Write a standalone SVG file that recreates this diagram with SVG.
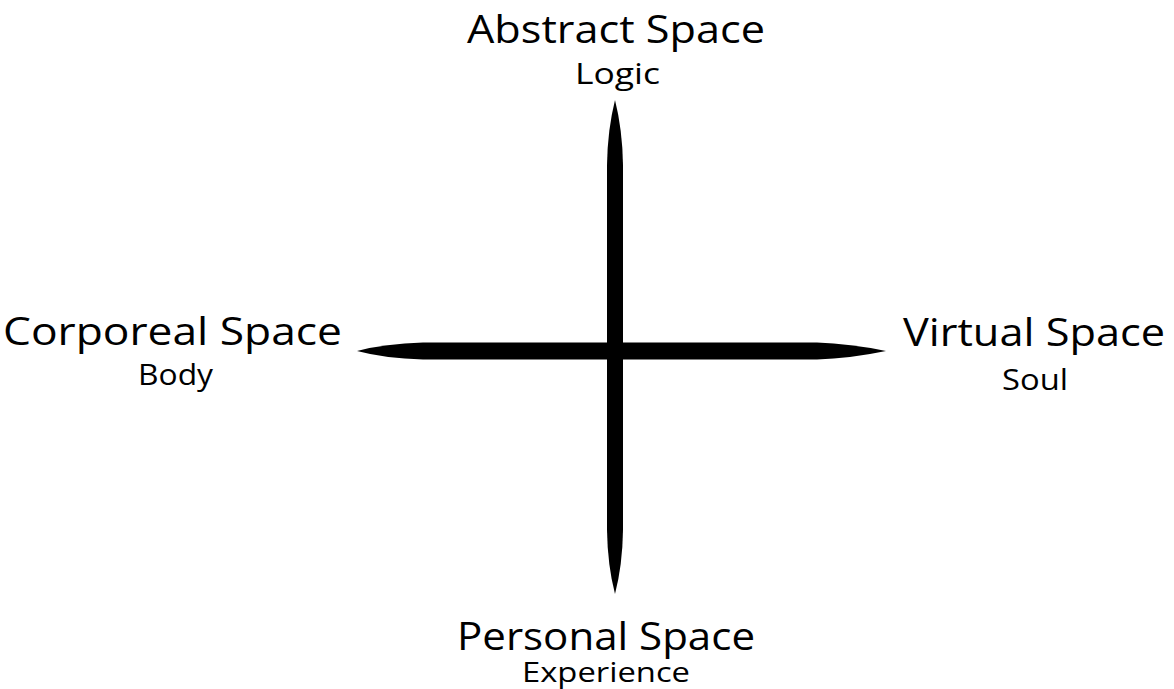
<svg xmlns="http://www.w3.org/2000/svg" width="1174" height="689" viewBox="0 0 1174 689">
<style>
.t{font-family:"Open Sans",Lato,sans-serif;fill:#000;text-anchor:middle}
.big{font-size:39px}
.small{font-size:29px}
.bar{fill:#000}
</style>
<rect width="1174" height="689" fill="#fff"/>
<g id="connectors">
<path class="bar" d="M357,351 Q385,343.5 423,342.5 L817,342.5 Q850,343.5 886,351 Q850,358.5 817,359.5 L423,359.5 Q385,358.5 357,351 Z"/>
<path class="bar" d="M615,100 Q607.5,130 607,165 L607,530 Q607.5,565 615,594 Q622.5,565 623,530 L623,165 Q622.5,130 615,100 Z"/>
</g>
<g id="abstract"><text class="t big" x="616" y="43" textLength="298" lengthAdjust="spacingAndGlyphs">Abstract Space</text><text class="t small" x="617.5" y="84" textLength="85" lengthAdjust="spacingAndGlyphs">Logic</text></g>
<g id="corporeal"><text class="t big" x="172.5" y="345" textLength="339" lengthAdjust="spacingAndGlyphs">Corporeal Space</text><text class="t small" x="175.5" y="385" textLength="75" lengthAdjust="spacingAndGlyphs">Body</text></g>
<g id="virtual"><text class="t big" x="1034" y="346" textLength="262" lengthAdjust="spacingAndGlyphs">Virtual Space</text><text class="t small" x="1035" y="390" textLength="66" lengthAdjust="spacingAndGlyphs">Soul</text></g>
<g id="personal"><text class="t big" x="606" y="650" textLength="298" lengthAdjust="spacingAndGlyphs">Personal Space</text><text class="t small" x="606" y="682" style="font-size:28px" textLength="168" lengthAdjust="spacingAndGlyphs">Experience</text></g>
</svg>
